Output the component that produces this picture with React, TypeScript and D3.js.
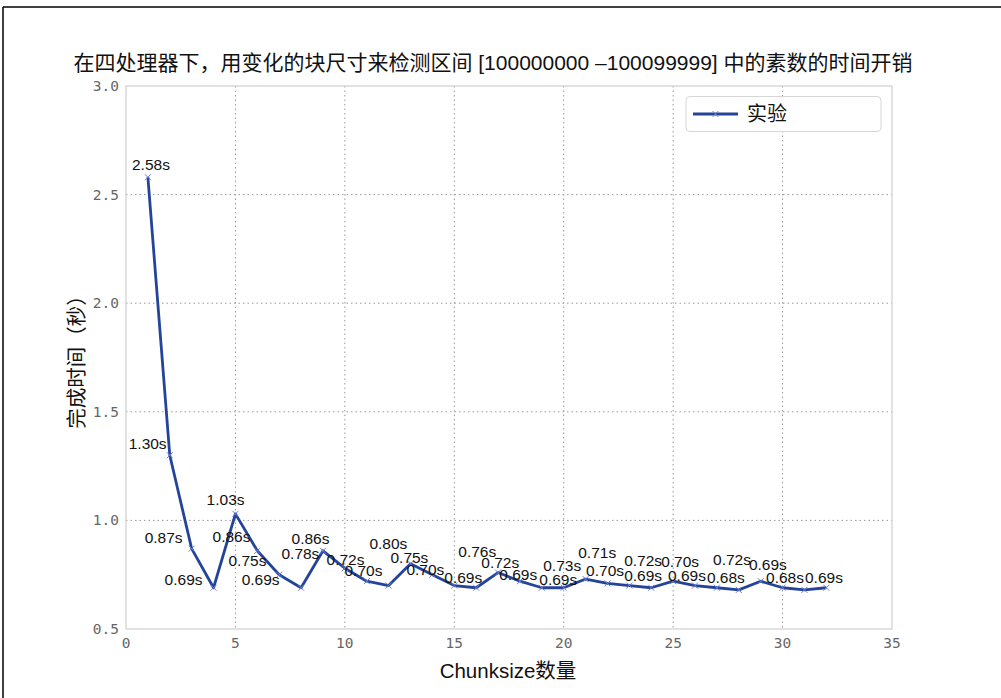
import React from "react";
import * as d3 from "d3";

const chunkSizes = d3.range(1, 33);
const seriesValues = [
  2.58, 1.30, 0.87, 0.69, 1.03, 0.86, 0.75, 0.69, 0.86, 0.78,
  0.72, 0.70, 0.80, 0.75, 0.70, 0.69, 0.76, 0.72, 0.69, 0.69,
  0.73, 0.71, 0.70, 0.69, 0.72, 0.70, 0.69, 0.68, 0.72, 0.69,
  0.68, 0.69,
];
// where each value label sits (data coordinates of the text centre)
const labelAnchorX = [
  1.14, 0.99, 1.72, 2.63, 4.55, 4.82, 5.55, 6.15, 8.43, 7.97,
  10.03, 10.85, 11.99, 12.95, 13.68, 15.41, 16.05, 17.10, 17.92, 19.75,
  19.93, 21.53, 21.89, 23.63, 23.63, 25.32, 25.63, 27.41, 27.69, 29.33,
  30.11, 31.89,
];
const labelAnchorY = [
  2.638, 1.353, 0.920, 0.727, 1.095, 0.925, 0.814, 0.727, 0.916, 0.847,
  0.819, 0.768, 0.893, 0.828, 0.773, 0.736, 0.856, 0.806, 0.750, 0.727,
  0.791, 0.851, 0.768, 0.745, 0.814, 0.810, 0.745, 0.736, 0.819, 0.796,
  0.736, 0.736,
];
const xTicks = [0, 5, 10, 15, 20, 25, 30, 35];
const yTicks = [0.5, 1.0, 1.5, 2.0, 2.5, 3.0];
const titleText = "在四处理器下，用变化的块尺寸来检测区间 [100000000 –100099999] 中的素数的时间开销";
const xLabel = "Chunksize数量";
const yLabel = "完成时间（秒）";
const legendLabel = "实验";

const W = 1001;
const H = 698;
const M = { left: 126, right: 892, top: 86, bottom: 629 };
const sans = "'Liberation Sans', Arial, 'Noto Sans CJK SC', sans-serif";
const mono = "'DejaVu Sans Mono', monospace";
const lineColor = "#24449a";
const markColor = "#6f7fd0";

export default function App() {
  const x = d3.scaleLinear().domain([0, 35]).range([M.left, M.right]);
  const y = d3.scaleLinear().domain([0.5, 3.0]).range([M.bottom, M.top]);
  const pts = chunkSizes.map((c, i) => [c, seriesValues[i]] as [number, number]);
  const line = d3.line<[number, number]>().x((d) => x(d[0])).y((d) => y(d[1]));
  const cross = (cx: number, cy: number, r: number, key: any) => (
    <path key={key} d={`M${cx - r},${cy - r}L${cx + r},${cy + r}M${cx - r},${cy + r}L${cx + r},${cy - r}`} stroke={markColor} strokeWidth={1} fill="none" />
  );
  return (
    <svg width={W} height={H} style={{ position: "absolute", left: 0, top: 0, background: "#fff" }}>
      <rect x={0} y={0} width={W} height={H} fill="#fff" />
      <line x1={3} y1={7} x2={W} y2={7} stroke="#000" strokeWidth={1.5} />
      <line x1={3} y1={7} x2={3} y2={H} stroke="#000" strokeWidth={1.5} />
      {/* grid */}
      {xTicks.slice(1, -1).map((t) => (
        <line key={"gx" + t} x1={x(t)} x2={x(t)} y1={M.top} y2={M.bottom} stroke="#999" strokeWidth={1} strokeDasharray="1.5,3" />
      ))}
      {yTicks.slice(1, -1).map((t) => (
        <line key={"gy" + t} x1={M.left} x2={M.right} y1={y(t)} y2={y(t)} stroke="#999" strokeWidth={1} strokeDasharray="1.5,3" />
      ))}
      <rect x={M.left} y={M.top} width={M.right - M.left} height={M.bottom - M.top} fill="none" stroke="#cfcfcf" strokeWidth={1.2} />
      {/* ticks */}
      {xTicks.map((t) => (
        <text key={"tx" + t} x={x(t)} y={M.bottom + 14} fontFamily={mono} fontSize={14.5} fill="#666" textAnchor="middle" dominantBaseline="central">{t}</text>
      ))}
      {yTicks.map((t) => (
        <text key={"ty" + t} x={M.left - 7} y={y(t)} fontFamily={mono} fontSize={14.5} fill="#666" textAnchor="end" dominantBaseline="central">{t.toFixed(1)}</text>
      ))}
      {/* series */}
      <path d={line(pts) || ""} fill="none" stroke={lineColor} strokeWidth={2.8} strokeLinejoin="round" />
      {pts.map((p, i) => cross(x(p[0]), y(p[1]), 3, "m" + i))}
      {seriesValues.map((v, i) => (
        <text key={"l" + i} x={x(labelAnchorX[i])} y={y(labelAnchorY[i])} fontFamily={sans} fontSize={15.5} fill="#111" textAnchor="middle" dominantBaseline="central">{v.toFixed(2) + "s"}</text>
      ))}
      {/* legend */}
      <rect x={686} y={96.5} width={195} height={35} rx={4} fill="#fff" stroke="#d6d6d6" strokeWidth={1} />
      <line x1={693} x2={738} y1={114} y2={114} stroke={lineColor} strokeWidth={2.8} />
      {cross(715.5, 114, 3, "lgm")}
      <text x={747} y={114} fontFamily={sans} fontSize={20} fill="#111" dominantBaseline="central">{legendLabel}</text>
      {/* titles */}
      <text x={493} y={62} fontFamily={sans} fontSize={21} fill="#111" textAnchor="middle" dominantBaseline="central">{titleText}</text>
      <text x={508} y={670} fontFamily={sans} fontSize={20.5} fill="#111" textAnchor="middle" dominantBaseline="central">{xLabel}</text>
      <text transform={`translate(76,357) rotate(-90)`} fontFamily={sans} fontSize={20.5} fill="#111" textAnchor="middle" dominantBaseline="central">{yLabel}</text>
    </svg>
  );
}
